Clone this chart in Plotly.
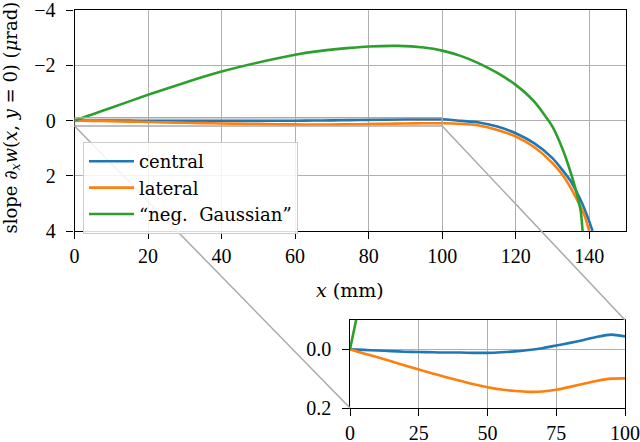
import plotly.graph_objects as go

# ---------------- data ----------------
# Detailed region 0..100 mm (shared by main plot and inset)
x_near = [0, 5, 10, 15, 20, 25, 30, 35, 40, 45, 50, 55, 60, 65, 70, 75, 80, 85, 90, 95, 100]
central_near = [0, 0.002, 0.004, 0.006, 0.008, 0.009, 0.010, 0.011, 0.011, 0.012, 0.012, 0.010,
                0.007, 0.002, -0.004, -0.013, -0.022, -0.032, -0.043, -0.050, -0.044]
lateral_near = [0, 0.014, 0.027, 0.041, 0.055, 0.069, 0.082, 0.095, 0.107, 0.119, 0.129, 0.137,
                0.142, 0.145, 0.144, 0.138, 0.128, 0.117, 0.107, 0.100, 0.099]

# Far region beyond 100 mm
central_x_far = [105, 110, 115, 120, 125, 130, 133, 135, 137, 138, 139, 140, 140.9]
central_far = [0.01, 0.07, 0.22, 0.46, 0.82, 1.36, 1.84, 2.20, 2.70, 2.98, 3.30, 3.65, 4.0]
lateral_x_far = [105, 110, 115, 120, 125, 130, 133, 135, 137, 138, 139, 140.0]
lateral_far = [0.12, 0.18, 0.34, 0.58, 0.96, 1.54, 2.02, 2.45, 2.95, 3.22, 3.55, 4.0]

gauss_x = [0, 2, 5, 10, 20, 30, 40, 50, 60, 67, 75, 80, 88, 95, 100, 105, 110, 115, 120, 125,
           130, 133, 135, 136, 137, 137.7, 138.2]
gauss_y = [0, -0.09, -0.23, -0.46, -0.93, -1.37, -1.77, -2.10, -2.38, -2.52, -2.63, -2.68, -2.70,
           -2.64, -2.53, -2.34, -2.07, -1.72, -1.29, -0.69, 0.22, 1.12, 1.90, 2.35, 2.85, 3.30, 4.0]

main_xticks = [0, 20, 40, 60, 80, 100, 120, 140]
main_yticks = [-4, -2, 0, 2, 4]
main_ytext = ["\u22124", "\u22122", "0", "2", "4"]
inset_xticks = [0, 25, 50, 75, 100]
inset_yticks = [0.0, 0.2]
inset_ytext = ["0.0", "0.2"]
inset_xrange = [0, 100]
inset_yrange = [0.2, -0.1]  # reversed (bottom = 0.2)

series_names = ["central", "lateral", "\u201cneg.\u00a0 Gaussian\u201d"]
colors = ["#1f77b4", "#ff7f0e", "#2ca02c"]

# ---------------- layout geometry ----------------
W, H = 640, 442
main_dom_x = [74.5 / W, 626 / W]
main_dom_y = [(H - 231) / H, (H - 10) / H]
main_xrange = [0, 150]
main_yrange = [4, -4]
ins_dom_x = [350 / W, 625 / W]
ins_dom_y = [(H - 408) / H, (H - 320) / H]

FONT = "Liberation Serif, DejaVu Serif, serif"
WIDE = "DejaVu Serif, serif"
FS = 20
PAD = "\u2004"  # small gap between y tick labels and ticks

fig = go.Figure()

cx = x_near + central_x_far
cy = central_near + central_far
lx = x_near + lateral_x_far
ly = lateral_near + lateral_far

line_kw = dict(width=2.6, shape="spline", smoothing=0.6)
for (xs, ys), name, col in zip([(cx, cy), (lx, ly), (gauss_x, gauss_y)], series_names, colors):
    fig.add_trace(go.Scatter(x=xs, y=ys, mode="lines", name=name, line=dict(color=col, **line_kw),
                             xaxis="x", yaxis="y"))
for (xs, ys), col in zip([(x_near, central_near), (x_near, lateral_near), (gauss_x, gauss_y)], colors):
    fig.add_trace(go.Scatter(x=xs, y=ys, mode="lines", showlegend=False, line=dict(color=col, **line_kw),
                             xaxis="x2", yaxis="y2"))


def to_paper(xv, yv, dom_x, dom_y, xr, yr):
    px = dom_x[0] + (xv - xr[0]) / (xr[1] - xr[0]) * (dom_x[1] - dom_x[0])
    py = dom_y[0] + (yv - yr[0]) / (yr[1] - yr[0]) * (dom_y[1] - dom_y[0])
    return px, py

gray = "#aaaaaa"
shapes = []
# indicator rectangle in main axes
shapes.append(dict(type="rect", xref="x", yref="y", x0=inset_xrange[0], x1=inset_xrange[1],
                   y0=inset_yrange[0], y1=inset_yrange[1], line=dict(color=gray, width=1.5), layer="above"))
# connectors: rect lower-left -> inset lower-left, rect lower-right -> inset upper-right
a = to_paper(inset_xrange[0], inset_yrange[0], main_dom_x, main_dom_y, main_xrange, main_yrange)
b = (ins_dom_x[0], ins_dom_y[0])
shapes.append(dict(type="line", xref="paper", yref="paper", x0=a[0], y0=a[1], x1=b[0], y1=b[1],
                   line=dict(color=gray, width=1.5), layer="above"))
a2 = to_paper(inset_xrange[1], inset_yrange[0], main_dom_x, main_dom_y, main_xrange, main_yrange)
b2 = (ins_dom_x[1], ins_dom_y[1])
shapes.append(dict(type="line", xref="paper", yref="paper", x0=a2[0], y0=a2[1], x1=b2[0], y1=b2[1],
                   line=dict(color=gray, width=1.5), layer="above"))

axis_common = dict(showline=True, linecolor="black", linewidth=1.4, mirror=True, ticks="outside",
                   ticklen=7, tickwidth=1.4, tickcolor="black", showgrid=True, gridcolor="#b0b0b0",
                   gridwidth=1.4, zeroline=False, automargin=False, ticklabeloverflow="allow",
                   tickfont=dict(family=FONT, size=FS, color="black"))

annotations = [
    dict(text="<i>x</i> (mm)", xref="paper", yref="paper", x=(main_dom_x[0] + main_dom_x[1]) / 2,
         y=(H - 290) / H, xanchor="center", yanchor="middle", showarrow=False,
         font=dict(family=WIDE, size=19, color="black")),
    dict(text="slope \u2202<sub><i>x</i></sub><i>w</i>(<i>x</i>, <i>y</i> = 0) (<i>\u03bc</i>rad)",
         xref="paper", yref="paper", x=11 / W, y=(main_dom_y[0] + main_dom_y[1]) / 2 + 3 / H,
         xanchor="center", yanchor="middle", textangle=-90, showarrow=False,
         font=dict(family=WIDE, size=18, color="black")),
]

fig.update_layout(
    width=W, height=H, margin=dict(l=0, r=0, t=0, b=0, autoexpand=False),
    paper_bgcolor="white", plot_bgcolor="white",
    font=dict(family=FONT, size=FS, color="black"),
    xaxis=dict(domain=main_dom_x, range=main_xrange, tickvals=main_xticks, anchor="y", **axis_common),
    yaxis=dict(domain=main_dom_y, range=main_yrange, tickvals=main_yticks,
               ticktext=[t + PAD for t in main_ytext], anchor="x", **axis_common),
    xaxis2=dict(domain=ins_dom_x, range=inset_xrange, tickvals=inset_xticks, anchor="y2", **axis_common),
    yaxis2=dict(domain=ins_dom_y, range=inset_yrange, tickvals=inset_yticks,
                ticktext=[t + PAD for t in inset_ytext], anchor="x2", **axis_common),
    legend=dict(x=83 / W, y=(H - 142) / H, xanchor="left", yanchor="top", bgcolor="rgba(255,255,255,0.85)",
                bordercolor="#cccccc", borderwidth=1, itemwidth=45, font=dict(family=WIDE, size=18)),
    shapes=shapes,
    annotations=annotations,
    showlegend=True,
)

fig.write_html("out.html", config={"displayModeBar": False},
               post_script="document.body.style.margin='0px';")
